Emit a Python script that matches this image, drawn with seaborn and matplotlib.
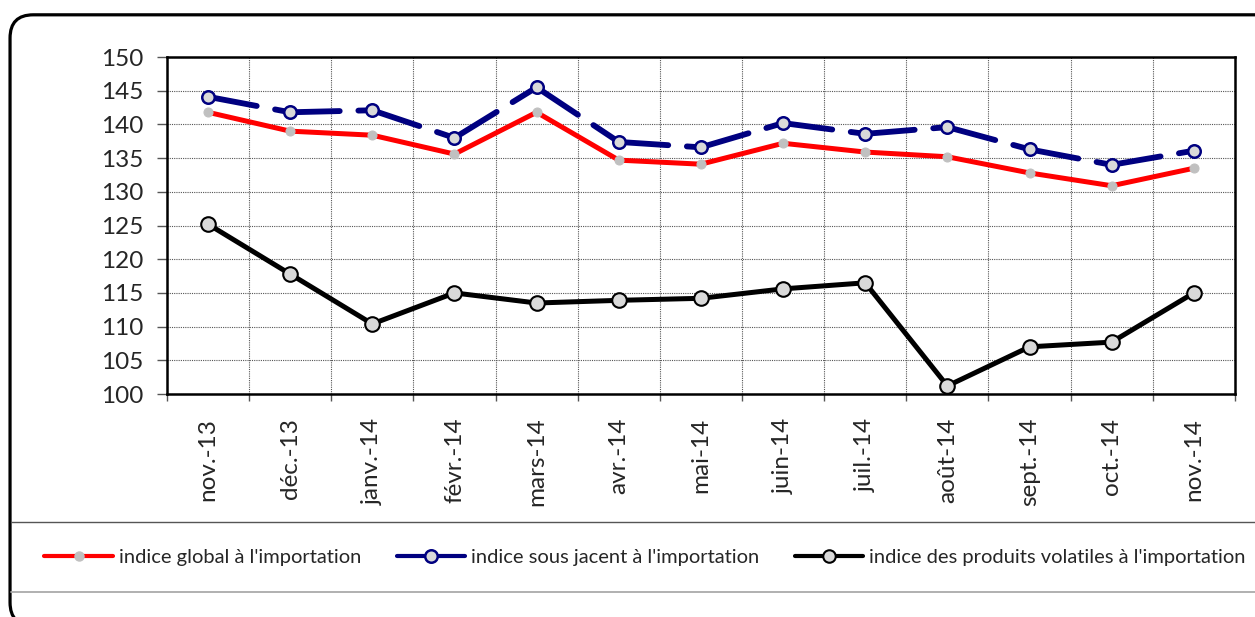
import numpy as np
import pandas as pd
import matplotlib
matplotlib.use("Agg")
import matplotlib.pyplot as plt
import seaborn as sns
from matplotlib.patches import FancyBboxPatch
from matplotlib.lines import Line2D

months = ["nov.-13", "déc.-13", "janv.-14", "févr.-14", "mars-14", "avr.-14", "mai-14",
          "juin-14", "juil.-14", "août-14", "sept.-14", "oct.-14", "nov.-14"]
global_idx = [141.8, 139.0, 138.4, 135.6, 141.8, 134.7, 134.1, 137.2, 135.9, 135.2, 132.8, 130.9, 133.5]
sous_jacent = [144.1, 141.8, 142.1, 138.0, 145.5, 137.4, 136.6, 140.2, 138.6, 139.6, 136.3, 134.0, 136.1]
volatiles = [125.2, 117.8, 110.4, 115.0, 113.5, 113.9, 114.2, 115.6, 116.5, 101.2, 107.0, 107.7, 115.0]

labels = ["indice global à l'importation",
          "indice sous jacent à l'importation",
          "indice des produits volatiles à l'importation"]

sns.set_style("white")
plt.rcParams['font.family'] = ['Lato', 'DejaVu Sans']

df = pd.DataFrame({"x": np.arange(len(months)), "global": global_idx,
                   "sous": sous_jacent, "vol": volatiles})

fig = plt.figure(figsize=(12.55, 6.17), dpi=100)
ax = fig.add_axes([0.133, 0.3614, 0.851, 0.5462])

# outer rounded frame (runs off the right and bottom edges) and legend separators
frame = FancyBboxPatch((0.008, -0.014), 1.03, 0.99, boxstyle="round,pad=0,rounding_size=0.0185",
                       transform=fig.transFigure, fill=False, edgecolor="black", linewidth=2.3,
                       mutation_aspect=1255 / 617)
fig.patches.append(frame)
fig.add_artist(Line2D([0.009, 1.0], [0.154, 0.154], transform=fig.transFigure, color="#555555", lw=1))
fig.add_artist(Line2D([0.009, 1.0], [0.0405, 0.0405], transform=fig.transFigure, color="#aaaaaa", lw=1.3))

# red line
sns.lineplot(data=df, x="x", y="global", ax=ax, color="#ff0000", lw=3.6, marker="o",
             markersize=6.5, markerfacecolor="#c0c0c0", markeredgecolor="#c0c0c0", zorder=3)

# blue dashed line, dash pattern restarts at each point
for i in range(len(months) - 1):
    ax.plot(df["x"][i:i + 2], df["sous"][i:i + 2], color="#000080", lw=4.2,
            linestyle=(0, (8.5, 3.2)), solid_capstyle="round", dash_capstyle="round", zorder=3)
sns.lineplot(data=df, x="x", y="sous", ax=ax, color="#000080", lw=0, marker="o",
             markersize=9, markerfacecolor="#d9d9d9", markeredgecolor="#000080",
             markeredgewidth=1.8, zorder=4)

# black line
sns.lineplot(data=df, x="x", y="vol", ax=ax, color="black", lw=3.6, marker="o",
             markersize=10.5, markerfacecolor="#d9d9d9", markeredgecolor="black",
             markeredgewidth=1.5, zorder=4)

ax.set_xlim(-0.5, len(months) - 0.5)
ax.set_ylim(100, 150)
ax.set_yticks(np.arange(100, 151, 5))
ax.set_xticks(np.arange(len(months)))
ax.set_xticklabels(months, rotation=90, fontsize=17.5)
ax.set_xticks(np.arange(len(months) + 1) - 0.5, minor=True)
ax.tick_params(axis="y", labelsize=17.5, length=7, width=1, color="#555555",
               direction="out", left=True, pad=10)
ax.tick_params(axis="x", which="major", length=0, pad=17)
ax.tick_params(axis="x", which="minor", length=5, width=1, color="#555555",
               direction="out", bottom=True)
ax.set_xlabel("")
ax.set_ylabel("")

ax.grid(True, axis="y", which="major", color="#555555", linestyle=(0, (1, 1)), lw=0.8)
ax.grid(True, axis="x", which="minor", color="#555555", linestyle=(0, (1, 1)), lw=0.8)
ax.grid(False, axis="x", which="major")
ax.set_axisbelow(True)
for s in ax.spines.values():
    s.set_visible(True)
    s.set_color("black")
    s.set_linewidth(1.8)

handles = [
    Line2D([], [], color="#ff0000", lw=3, marker="o", markersize=6.5,
           markerfacecolor="#c0c0c0", markeredgecolor="#c0c0c0"),
    Line2D([], [], color="#000080", lw=3, marker="o", markersize=9,
           markerfacecolor="#d9d9d9", markeredgecolor="#000080", markeredgewidth=1.8),
    Line2D([], [], color="black", lw=3, marker="o", markersize=9,
           markerfacecolor="#d9d9d9", markeredgecolor="black", markeredgewidth=1.5),
]
fig.legend(handles, labels, loc="center", bbox_to_anchor=(0.514, 0.097), ncol=3,
           frameon=False, fontsize=14.5, handlelength=3.4, handletextpad=0.3,
           columnspacing=1.75)

fig.savefig("out.png", dpi=100)
